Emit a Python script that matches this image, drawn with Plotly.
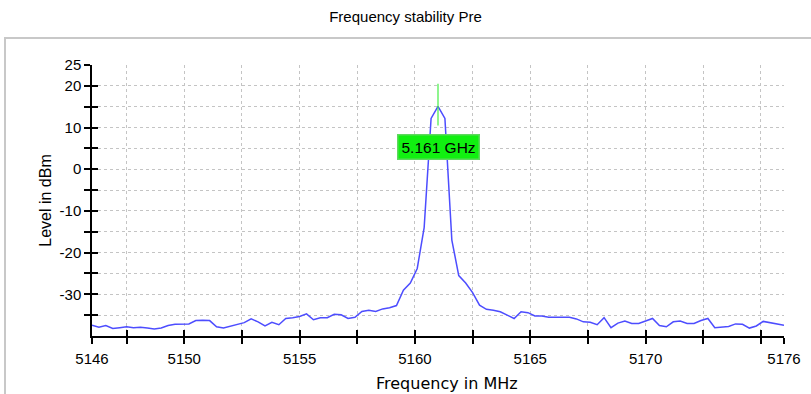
import plotly.graph_objects as go

# ---- data ----
freq_start = 5146.0
freq_step = 0.3
level_dbm = [
    -37.4, -37.9, -37.5, -38.2, -38.0, -37.8, -38.0, -37.9, -38.1, -38.3,
    -38.1, -37.5, -37.2, -37.1, -37.1, -36.3, -36.2, -36.3, -37.8, -38.1,
    -37.7, -37.3, -36.8, -35.9, -36.6, -37.6, -36.7, -37.3, -35.8, -35.6,
    -35.3, -34.7, -36.1, -35.6, -35.6, -34.8, -34.9, -35.8, -35.5, -34.1,
    -33.8, -34.1, -33.5, -33.2, -32.7, -29.0, -27.3, -23.8, -14.0, 12.2,
    15.1, 12.2, -17.0, -25.5, -27.3, -29.6, -32.6, -33.6, -33.8, -34.2,
    -35.1, -35.8, -34.2, -34.4, -35.2, -35.2, -35.5, -35.5, -35.5, -35.5,
    -35.9, -36.6, -36.7, -37.3, -35.6, -38.0, -36.9, -36.4, -37.0, -37.0,
    -36.4, -35.8, -37.5, -37.8, -36.6, -36.4, -37.0, -37.0, -36.3, -35.8,
    -38.0, -37.8, -37.7, -37.1, -37.2, -38.1, -37.6, -36.5, -36.8, -37.1,
    -37.4,
]
freq_mhz = [round(freq_start + freq_step * i, 3) for i in range(len(level_dbm))]

marker_freq = 5161.0
marker_line = [20.5, 10.5]
marker_label = "5.161 GHz"
marker_label_level = 5.3

x_range = [5146, 5176]
y_range = [-40, 25]
x_tickvals = [5146] + [5147.5 + 2.5 * k for k in range(12)] + [5176]
x_label_at = {5146: "5146", 5150: "5150", 5155: "5155", 5160: "5160",
              5165: "5165", 5170: "5170", 5176: "5176"}
x_ticktext = [x_label_at.get(v, "") for v in x_tickvals]
y_tickvals = [-35, -30, -25, -20, -15, -10, -5, 0, 5, 10, 15, 20, 25]
y_label_at = {25: "25", 20: "20", 10: "10", 0: "0", -10: "-10", -20: "-20", -30: "-30"}
y_ticktext = [y_label_at.get(v, "") for v in y_tickvals]

title_text = "Frequency stability Pre"
x_title = "Frequency in MHz"
y_title = "Level in dBm"

# ---- figure ----
W, H = 811, 394
ML, MR, MT, MB = 92, 27, 65, 58
pw, ph = W - ML - MR, H - MT - MB

def px_to_paper_x(px):
    return (px - ML) / pw

def py_to_paper_y(py):
    return (H - MB - py) / ph

fig = go.Figure()
fig.add_trace(go.Scatter(x=freq_mhz, y=level_dbm, mode="lines",
                         line=dict(color="#4d4dff", width=1.5),
                         hoverinfo="x+y", showlegend=False))
fig.add_trace(go.Scatter(x=[marker_freq, marker_freq], y=marker_line, mode="lines",
                         line=dict(color="#44ee44", width=1.2), showlegend=False))
# dummy trace for the overlay axes (inner halves of the crossing ticks)
fig.add_trace(go.Scatter(x=[None], y=[None], xaxis="x2", yaxis="y2",
                         showlegend=False, hoverinfo="skip"))

fig.add_annotation(x=marker_freq, y=marker_label_level, text=marker_label,
                   showarrow=False, xanchor="center", yanchor="middle",
                   bgcolor="#11f011", bordercolor="#5fd85f", borderwidth=1.5,
                   borderpad=3,
                   font=dict(family="Liberation Sans, Arial", size=15.5, color="black"))

# x axis title (letter-spaced look -> wide font, placed as in the reference)
fig.add_annotation(x=px_to_paper_x(447), y=py_to_paper_y(383), xref="paper", yref="paper",
                   text=x_title, showarrow=False, xanchor="center", yanchor="middle",
                   font=dict(family="DejaVu Sans", size=16, color="black"))

tickfont = dict(family="Liberation Sans, Arial", size=15, color="black")
common = dict(showline=True, linecolor="black", linewidth=1.5,
              ticks="outside", ticklen=6, tickwidth=1.5, tickcolor="black",
              gridcolor="#c4c4c4", griddash="dot", gridwidth=1,
              zeroline=False, tickfont=tickfont, automargin=False)

fig.update_layout(
    width=W, height=H,
    margin=dict(l=ML, r=MR, t=MT, b=MB),
    paper_bgcolor="white", plot_bgcolor="white",
    title=dict(text=title_text, x=0.5, xref="container", xanchor="center",
               y=1 - 17 / H, yref="container", yanchor="middle",
               font=dict(family="Liberation Sans, Arial", size=15, color="black")),
    xaxis=dict(range=x_range, tickmode="array", tickvals=x_tickvals,
               ticktext=x_ticktext, showgrid=True, ticklabelstandoff=2,
               **common),
    yaxis=dict(range=y_range, tickmode="array", tickvals=y_tickvals,
               ticktext=y_ticktext, showgrid=True, ticklabelstandoff=0,
               title=dict(text=y_title, standoff=4,
                          font=dict(family="Liberation Sans, Arial", size=16, color="black")),
               **common),
    xaxis2=dict(range=x_range, overlaying="x", anchor="y", side="bottom",
                tickmode="array", tickvals=x_tickvals, ticks="inside", ticklen=6,
                tickwidth=1.5, tickcolor="black", showticklabels=False,
                showgrid=False, showline=False, zeroline=False),
    yaxis2=dict(range=y_range, overlaying="y", anchor="x", side="left",
                tickmode="array", tickvals=y_tickvals, ticks="inside", ticklen=6,
                tickwidth=1.5, tickcolor="black", showticklabels=False,
                showgrid=False, showline=False, zeroline=False),
)

# outer light-gray panel border
fig.add_shape(type="rect", xref="paper", yref="paper", layer="below",
              x0=px_to_paper_x(5), x1=px_to_paper_x(820),
              y0=py_to_paper_y(410), y1=py_to_paper_y(38),
              line=dict(color="#c8c8c8", width=2))

fig.write_html("out.html")
